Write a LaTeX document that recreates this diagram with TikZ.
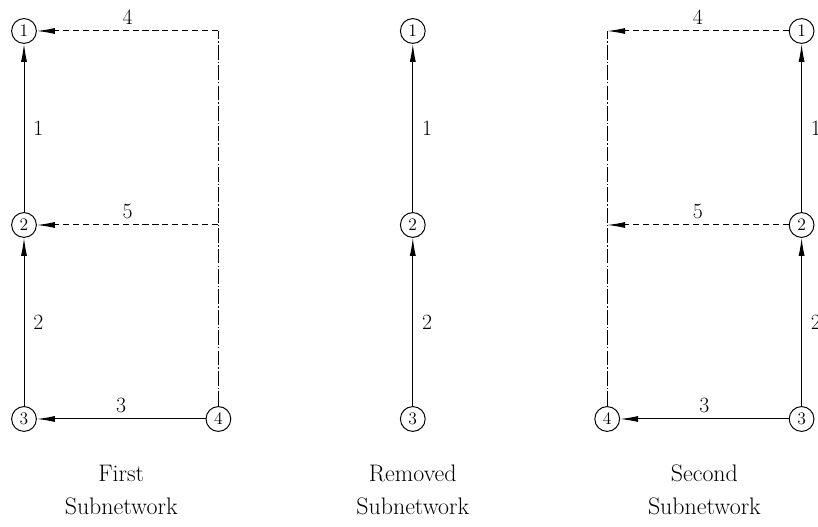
\documentclass[tikz,border=0pt]{standalone}
\usepackage{amsmath}
\usepackage{tikz}
\usetikzlibrary{arrows.meta, positioning}

\begin{document}
\begin{tikzpicture}[
        vertex/.style={circle, draw, line width=0.7pt, minimum size=0.62cm, inner sep=0pt, font=\fontsize{12.5}{14}\selectfont},
        arcline/.style={line width=0.7pt, -{Latex[length=4.5mm, width=1.5mm]}},
        dashline/.style={arcline, dash pattern=on 4.3pt off 2.8pt},
        cutline/.style={line width=0.7pt, dash pattern=on 10.5pt off 1.5pt on 1pt off 1.5pt},
        lbl/.style={font=\fontsize{15.5}{18}\selectfont},
        subtitle/.style={align=center, font=\fontsize{17}{23.5}\selectfont}
    ]
            \useasboundingbox (-0.6, -2.7) rectangle (19.85, 10.475);

            % first subnetwork
            \node[vertex] (f1) at (0, 9.7) {1};
            \node[vertex] (f2) at (0, 4.85) {2};
            \node[vertex] (f3) at (0, 0) {3};
            \node[vertex] (f4) at (4.86, 0) {4};
            \coordinate (fa) at (4.86, 9.7);
            \coordinate (fb) at (4.86, 4.85);

            \draw[arcline] (f2) -- node[lbl, right=3pt] {1} (f1);
            \draw[arcline] (f3) -- node[lbl, right=3pt] {2} (f2);
            \draw[arcline] (f4) -- node[lbl, above=1pt] {3} (f3);
            \draw[dashline] (fa) -- node[lbl, above=1pt] {4} (f1);
            \draw[dashline] (fb) -- node[lbl, above=1pt] {5} (f2);
            \draw[cutline] (f4) -- (fa);

            % removed subnetwork
            \node[vertex] (r1) at (9.72, 9.7) {1};
            \node[vertex] (r2) at (9.72, 4.85) {2};
            \node[vertex] (r3) at (9.72, 0) {3};

            \draw[arcline] (r2) -- node[lbl, right=3pt] {1} (r1);
            \draw[arcline] (r3) -- node[lbl, right=3pt] {2} (r2);

            % second subnetwork
            \node[vertex] (s1) at (19.44, 9.7) {1};
            \node[vertex] (s2) at (19.44, 4.85) {2};
            \node[vertex] (s3) at (19.44, 0) {3};
            \node[vertex] (s4) at (14.58, 0) {4};
            \coordinate (sa) at (14.58, 9.7);
            \coordinate (sb) at (14.58, 4.85);

            \draw[arcline] (s2) -- node[lbl, right=3pt] {1} (s1);
            \draw[arcline] (s3) -- node[lbl, right=3pt] {2} (s2);
            \draw[arcline] (s3) -- node[lbl, above=1pt] {3} (s4);
            \draw[dashline] (s1) -- node[lbl, above=1pt] {4} (sa);
            \draw[dashline] (s2) -- node[lbl, above=1pt] {5} (sb);
            \draw[cutline] (s4) -- (sa);

            % captions
            \node[subtitle] (capf) at (2.43, -1.78) {First\\Subnetwork};
            \node[subtitle] (capr) at (9.72, -1.78) {Removed\\Subnetwork};
            \node[subtitle] (caps) at (17.01, -1.78) {Second\\Subnetwork};
        \end{tikzpicture}
\end{document}
